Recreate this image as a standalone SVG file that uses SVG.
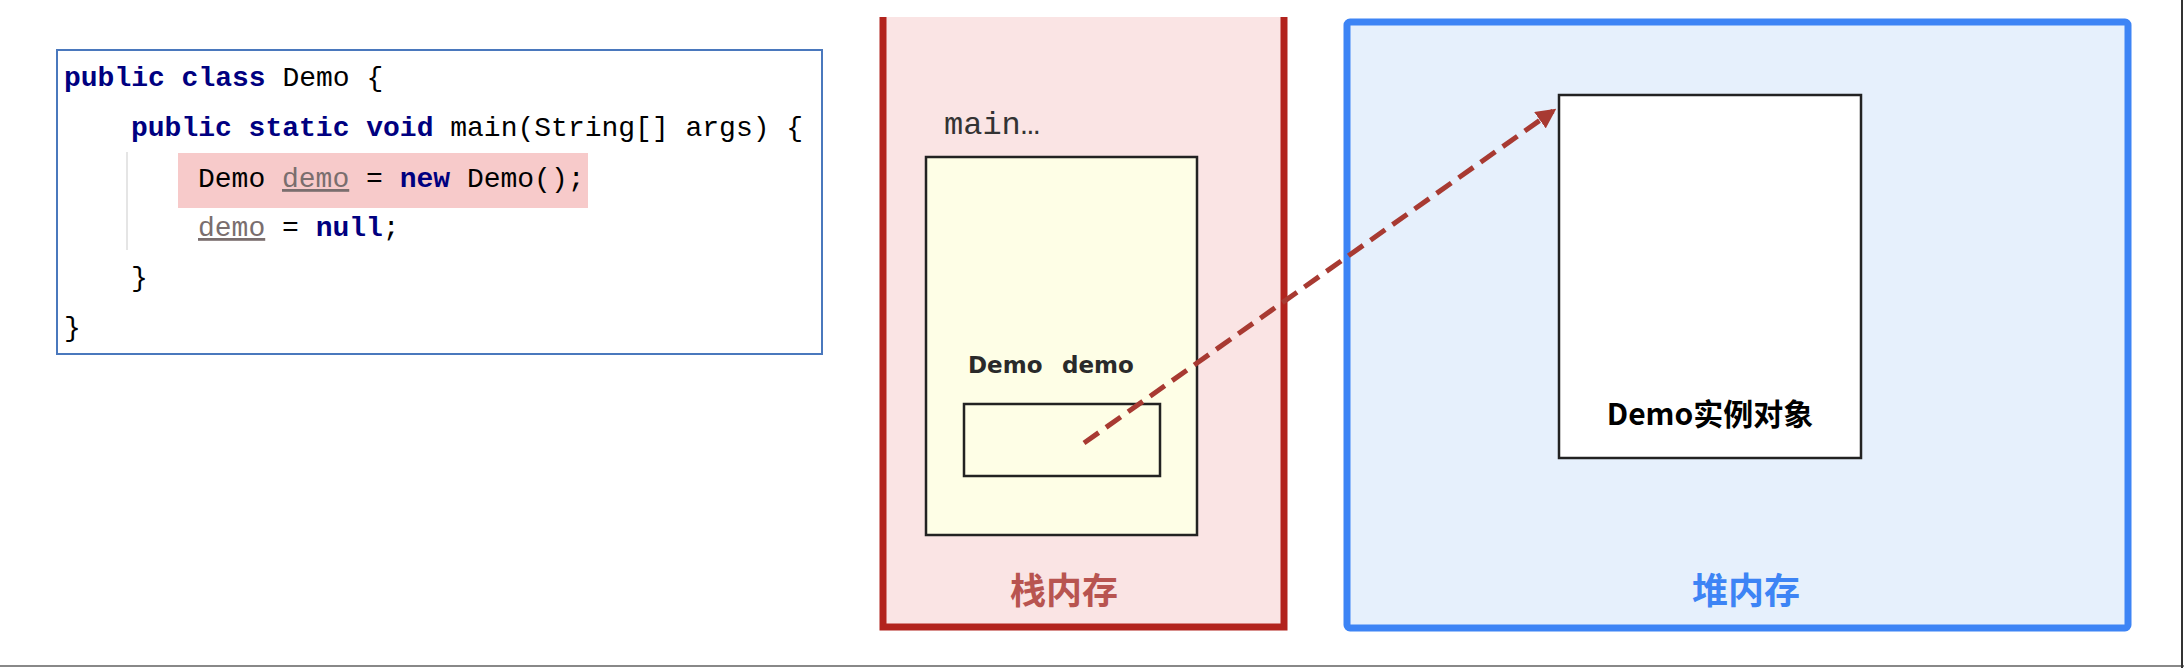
<svg xmlns="http://www.w3.org/2000/svg" width="2184" height="668" viewBox="0 0 2184 668">
<style>
.code{font-family:"Liberation Mono","DejaVu Sans Mono",monospace;font-size:28px;fill:#000}
.kw{fill:#000080;font-weight:bold}
.var{fill:#7a6e6e;text-decoration:underline}
.lbl{font-family:"DejaVu Sans","Noto Sans",sans-serif;font-weight:bold;font-size:23px;fill:#2a2a2a}
.mem{font-family:"Noto Sans CJK SC",sans-serif;font-weight:bold;font-size:36px}
.box{stroke:#222;stroke-width:2.5}
</style>
<defs>
<marker id="ah" viewBox="0 0 10 10" refX="8" refY="5" markerWidth="4" markerHeight="4" orient="auto" markerUnits="strokeWidth">
<path d="M0,0 L10,5 L0,10 z" fill="#a83a32"/>
</marker>
</defs>
<rect width="2184" height="668" fill="#fff"/>
<g id="code">
<rect x="57" y="50" width="765" height="304" fill="#fff" stroke="#4a78bd" stroke-width="2"/>
<rect x="178" y="153" width="410" height="55" fill="#f7caca"/>
<line x1="127" y1="152" x2="127" y2="250" stroke="#ddd" stroke-width="1.5"/>
<text class="code" x="64" y="86"><tspan class="kw">public class</tspan> Demo {</text>
<text class="code" x="131" y="136"><tspan class="kw">public static void</tspan> main(String[] args) {</text>
<text class="code" x="198" y="187">Demo <tspan class="var">demo</tspan> = <tspan class="kw">new</tspan> Demo();</text>
<text class="code" x="198" y="236"><tspan class="var">demo</tspan> = <tspan class="kw">null</tspan>;</text>
<text class="code" x="131" y="286">}</text>
<text class="code" x="64" y="336">}</text>
</g>
<g id="stack">
<path d="M883,17 V627 H1284 V17" fill="#fae4e4" stroke="#b2231d" stroke-width="7"/>
<text x="944" y="134" font-family="Liberation Mono,monospace" font-size="32" fill="#333">main…</text>
<text class="mem" x="1064" y="604" text-anchor="middle" fill="#b85450">栈内存</text>
</g>
<g id="frame">
<rect class="box" x="926" y="157" width="271" height="378" fill="#fefee6"/>
<text class="lbl" x="968" y="373"><tspan>Demo</tspan><tspan x="1062">demo</tspan></text>
<rect class="box" x="964" y="404" width="196" height="72" fill="#fefee6"/>
</g>
<g id="heap">
<rect x="1347" y="22" width="781" height="606" rx="3" fill="#e6f0fc" stroke="#3d84f5" stroke-width="7"/>
<text class="mem" x="1746" y="604" text-anchor="middle" fill="#3d84f5">堆内存</text>
</g>
<g id="object">
<rect class="box" x="1559" y="95" width="302" height="363" fill="#fff"/>
<text x="1710" y="425" text-anchor="middle" font-family="Noto Sans CJK SC,sans-serif" font-weight="bold" font-size="30" fill="#000">Demo实例对象</text>
</g>
<g id="connectors">
<line x1="1084" y1="443" x2="1553" y2="111" stroke="#a83a32" stroke-width="5" stroke-dasharray="18,9" marker-end="url(#ah)"/>
</g>
<g id="edges">
<line x1="0" y1="666" x2="2184" y2="666" stroke="#888" stroke-width="2"/>
<line x1="2182" y1="0" x2="2182" y2="668" stroke="#333" stroke-width="2"/>
</g>
</svg>
